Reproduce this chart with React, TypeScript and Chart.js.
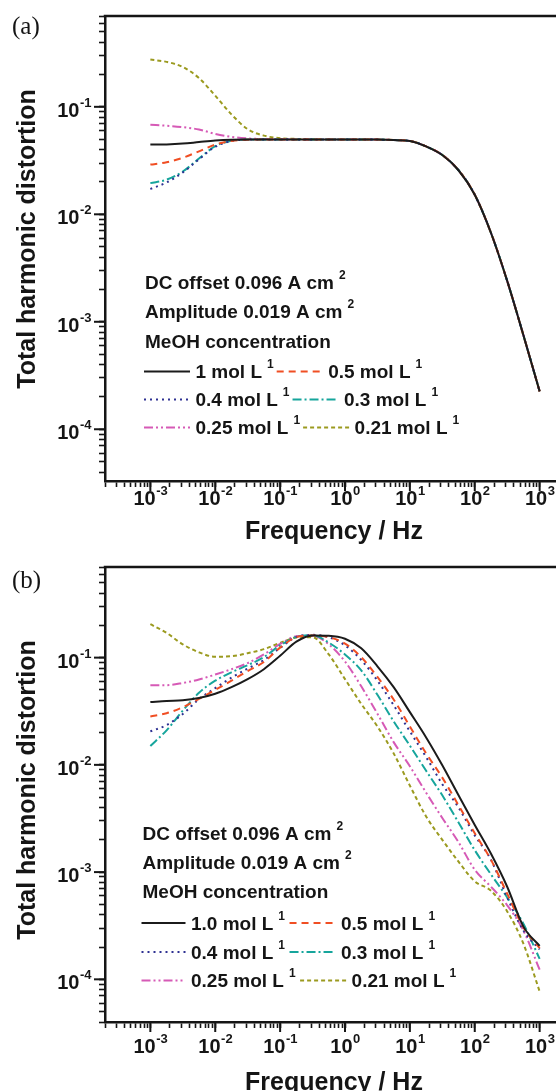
import React, { useEffect, useRef } from "react";
import { Chart, registerables } from "chart.js";

Chart.register(...registerables);

// ---------- data ----------
const FREQ_HZ = [
  0.001, 0.00178, 0.00316, 0.00562, 0.01, 0.0178, 0.0316, 0.0562, 0.1, 0.178, 0.316, 0.562, 1,
  1.78, 3.16, 5.62, 10, 17.8, 31.6, 56.2, 100, 178, 316, 562, 1000,
];

// panel (a)
const A_1_0 = [0.0445, 0.0447, 0.0455, 0.047, 0.0485, 0.0494, 0.0497, 0.0497, 0.0497, 0.0497, 0.0497, 0.0497, 0.0497, 0.0497, 0.0496, 0.0491, 0.0481, 0.0428, 0.0356, 0.0257, 0.0152, 0.0067, 0.0024, 0.00075, 0.000225];
const A_0_5 = [0.029, 0.0305, 0.0336, 0.0385, 0.0445, 0.0482, 0.0495, 0.0497, 0.0497, 0.0497, 0.0497, 0.0497, 0.0497, 0.0497, 0.0496, 0.0491, 0.0481, 0.0428, 0.0356, 0.0257, 0.0152, 0.0067, 0.0024, 0.00075, 0.000225];
const A_0_4 = [0.0172, 0.0198, 0.0245, 0.0325, 0.0425, 0.048, 0.0495, 0.0497, 0.0497, 0.0497, 0.0497, 0.0497, 0.0497, 0.0497, 0.0496, 0.0491, 0.0481, 0.0428, 0.0356, 0.0257, 0.0152, 0.0067, 0.0024, 0.00075, 0.000225];
const A_0_3 = [0.0195, 0.021, 0.025, 0.033, 0.043, 0.0483, 0.0496, 0.0497, 0.0497, 0.0497, 0.0497, 0.0497, 0.0497, 0.0497, 0.0496, 0.0491, 0.0481, 0.0428, 0.0356, 0.0257, 0.0152, 0.0067, 0.0024, 0.00075, 0.000225];
const A_0_25 = [0.068, 0.0667, 0.0647, 0.0615, 0.056, 0.0525, 0.0508, 0.0502, 0.0499, 0.0497, 0.0497, 0.0497, 0.0497, 0.0497, 0.0496, 0.0491, 0.0481, 0.0428, 0.0356, 0.0257, 0.0152, 0.0067, 0.0024, 0.00075, 0.000225];
const A_0_21 = [0.275, 0.262, 0.235, 0.185, 0.127, 0.085, 0.062, 0.054, 0.051, 0.0503, 0.0499, 0.0497, 0.0497, 0.0497, 0.0496, 0.0491, 0.0481, 0.0428, 0.0356, 0.0257, 0.0152, 0.0067, 0.0024, 0.00075, 0.000225];

// panel (b)
const B_1_0 = [0.0385, 0.0395, 0.04, 0.042, 0.046, 0.053, 0.063, 0.078, 0.104, 0.141, 0.161, 0.16, 0.15, 0.122, 0.083, 0.053, 0.031, 0.018, 0.0099, 0.0052, 0.00275, 0.00148, 0.00073, 0.00031, 0.000205];
const B_0_5 = [0.0283, 0.0303, 0.0345, 0.0413, 0.05, 0.061, 0.075, 0.091, 0.124, 0.155, 0.161, 0.155, 0.135, 0.101, 0.066, 0.0407, 0.0228, 0.0128, 0.0076, 0.0042, 0.0023, 0.0013, 0.00063, 0.000305, 0.000195];
const B_0_4 = [0.0205, 0.0235, 0.0298, 0.041, 0.052, 0.065, 0.079, 0.095, 0.123, 0.156, 0.163, 0.155, 0.13, 0.095, 0.061, 0.036, 0.0205, 0.0118, 0.0066, 0.004, 0.0022, 0.0013, 0.00058, 0.000285, 0.00019];
const B_0_3 = [0.015, 0.021, 0.032, 0.047, 0.061, 0.073, 0.085, 0.101, 0.13, 0.156, 0.162, 0.138, 0.107, 0.076, 0.045, 0.0255, 0.0151, 0.0088, 0.0052, 0.0029, 0.0016, 0.00095, 0.00058, 0.00033, 0.000155];
const B_0_25 = [0.0553, 0.0553, 0.058, 0.0625, 0.0695, 0.078, 0.089, 0.107, 0.134, 0.158, 0.16, 0.133, 0.092, 0.054, 0.03, 0.0163, 0.0097, 0.0055, 0.0032, 0.0019, 0.00105, 0.00073, 0.00049, 0.000285, 0.000123];
const B_0_21 = [0.205, 0.17, 0.133, 0.112, 0.102, 0.103, 0.11, 0.12, 0.137, 0.154, 0.155, 0.107, 0.063, 0.037, 0.0228, 0.0128, 0.0064, 0.0033, 0.002, 0.00125, 0.00082, 0.00067, 0.00043, 0.000215, 0.000077];

const NAMES_A = ["1 mol L", "0.5 mol L", "0.4 mol L", "0.3 mol L", "0.25 mol L", "0.21 mol L"];
const NAMES_B = ["1.0 mol L", "0.5 mol L", "0.4 mol L", "0.3 mol L", "0.25 mol L", "0.21 mol L"];
const UNIT_SUP = "1";
const HEADER_LINES: [string, string][] = [
  ["DC offset 0.096 A cm", "2"],
  ["Amplitude 0.019 A cm", "2"],
  ["MeOH concentration", ""],
];
const X_TITLE = "Frequency / Hz";
const Y_TITLE = "Total harmonic distortion";
const X_TICK_EXPONENTS = [-3, -2, -1, 0, 1, 2, 3];
const Y_TICK_EXPONENTS = [-1, -2, -3, -4];

// ---------- styles ----------
const STYLES = [
  { color: "#1b1b1b", dash: [] as number[] },
  { color: "#f04e23", dash: [7, 5] },
  { color: "#2e3192", dash: [2, 4] },
  { color: "#16a59c", dash: [9, 3, 2, 3] },
  { color: "#d65ab6", dash: [9, 3, 2, 3, 2, 3] },
  { color: "#9b9a1f", dash: [4, 3] },
];
const INK = "#151515";
const SANS = '"Liberation Sans", Arial, sans-serif';
const TICK_FONT = `bold 20px ${SANS}`;
const TICK_SUP = `bold 13px ${SANS}`;
const LEG_FONT = `bold 19px ${SANS}`;
const LEG_SUP = `bold 12px ${SANS}`;
const TITLE_FONT = `bold 25px ${SANS}`;
const PANEL_FONT = `25px "Liberation Serif", "Times New Roman", serif`;

const CANVAS_W = 600;
const X_MIN = 2e-4;
const X_MAX = 5000;
const AREA_LEFT = 105;
const AREA_RIGHT = 585;
const TICK_LEN = 6;

type Cfg = {
  top: number;
  h: number;
  yMin: number;
  yMax: number;
  areaTop: number;
  areaBottom: number;
  label: string;
  labelBase: number;
  xLabelBase: number;
  xTitleBase: number;
  yTitleCenter: number;
  legend: { x: number; base: number[]; sw1: number; sw2: number; colGap: number };
  names: string[];
  series: number[][];
};

const PANEL_A: Cfg = {
  top: 0, h: 548, yMin: 3.3e-5, yMax: 0.7, areaTop: 16, areaBottom: 481,
  label: "(a)", labelBase: 34, xLabelBase: 505, xTitleBase: 539, yTitleCenter: 239,
  legend: { x: 144, base: [288.5, 318, 347.5, 378, 406, 434], sw1: 46, sw2: 46, colGap: 3 },
  names: NAMES_A,
  series: [A_1_0, A_0_5, A_0_4, A_0_3, A_0_25, A_0_21],
};
const PANEL_B: Cfg = {
  top: 548, h: 543, yMin: 4e-5, yMax: 0.7, areaTop: 19, areaBottom: 474,
  label: "(b)", labelBase: 40, xLabelBase: 505, xTitleBase: 542, yTitleCenter: 242,
  legend: { x: 141.5, base: [292, 321, 350, 381.5, 410.5, 439], sw1: 44, sw2: 46, colGap: 4.5 },
  names: NAMES_B,
  series: [B_1_0, B_0_5, B_0_4, B_0_3, B_0_25, B_0_21],
};

function logTicks(min: number, max: number) {
  const out: { value: number; major: boolean }[] = [];
  for (let e = -6; e <= 4; e++) {
    for (let m = 1; m <= 9; m++) {
      const v = parseFloat((m * Math.pow(10, e)).toPrecision(3));
      if (v >= min * 0.999 && v <= max * 1.001) out.push({ value: v, major: m === 1 });
    }
  }
  return out;
}

function supText(e: number) {
  return e < 0 ? "-" + Math.abs(e) : String(e);
}

function powWidth(ctx: CanvasRenderingContext2D, e: number) {
  ctx.font = TICK_FONT;
  const w1 = ctx.measureText("10").width;
  ctx.font = TICK_SUP;
  const w2 = ctx.measureText(supText(e)).width;
  return [w1, w2];
}

function drawPow(ctx: CanvasRenderingContext2D, e: number, x: number, base: number) {
  const [w1] = powWidth(ctx, e);
  ctx.font = TICK_FONT;
  ctx.fillText("10", x, base);
  ctx.font = TICK_SUP;
  ctx.fillText(supText(e), x + w1 + 0.5, base - 10);
}

function makeDecor(cfg: Cfg) {
  return {
    id: "decor",
    afterDraw(chart: any) {
      const { ctx, chartArea: ca, scales } = chart;
      const xs = scales.x;
      const ys = scales.y;
      ctx.save();
      ctx.strokeStyle = INK;
      ctx.fillStyle = INK;
      ctx.textAlign = "left";
      ctx.textBaseline = "alphabetic";
      // top frame
      ctx.lineWidth = 2.5;
      ctx.beginPath();
      ctx.moveTo(ca.left - 1.25, ca.top);
      ctx.lineTo(ca.right, ca.top);
      ctx.stroke();
      // long major ticks
      ctx.lineWidth = 2;
      X_TICK_EXPONENTS.forEach((e) => {
        const px = xs.getPixelForValue(Math.pow(10, e));
        ctx.beginPath();
        ctx.moveTo(px, ca.bottom);
        ctx.lineTo(px, ca.bottom + 10);
        ctx.stroke();
      });
      Y_TICK_EXPONENTS.forEach((e) => {
        const py = ys.getPixelForValue(Math.pow(10, e));
        ctx.beginPath();
        ctx.moveTo(ca.left, py);
        ctx.lineTo(ca.left - 11, py);
        ctx.stroke();
      });
      // tick labels
      X_TICK_EXPONENTS.forEach((e) => {
        const px = xs.getPixelForValue(Math.pow(10, e));
        const [w1, w2] = powWidth(ctx, e);
        drawPow(ctx, e, px - (w1 + w2) / 2, cfg.xLabelBase);
      });
      Y_TICK_EXPONENTS.forEach((e) => {
        const py = ys.getPixelForValue(Math.pow(10, e));
        const [w1, w2] = powWidth(ctx, e);
        drawPow(ctx, e, ca.left - 14 - (w1 + w2), py + 10);
      });
      // axis titles
      ctx.font = TITLE_FONT;
      ctx.textAlign = "center";
      ctx.fillText(X_TITLE, 334, cfg.xTitleBase);
      ctx.save();
      ctx.translate(35, cfg.yTitleCenter);
      ctx.rotate(-Math.PI / 2);
      ctx.fillText(Y_TITLE, 0, 0);
      ctx.restore();
      // panel label
      ctx.textAlign = "left";
      ctx.font = PANEL_FONT;
      ctx.fillText(cfg.label, 12, cfg.labelBase);
      // legend block
      const L = cfg.legend;
      HEADER_LINES.forEach(([t, s], i) => {
        ctx.font = LEG_FONT;
        ctx.fillText(t, L.x + 1, L.base[i]);
        const w = ctx.measureText(t).width;
        if (s) {
          ctx.font = LEG_SUP;
          ctx.fillText(s, L.x + 1 + w + 5, L.base[i] - 10);
        }
      });
      for (let r = 0; r < 3; r++) {
        let x = L.x;
        const b = L.base[3 + r];
        const ly = b - 6.5;
        for (let c = 0; c < 2; c++) {
          const k = r * 2 + c;
          const st = STYLES[k];
          const sw = c === 0 ? L.sw1 : L.sw2;
          ctx.save();
          ctx.strokeStyle = st.color;
          ctx.lineWidth = 2;
          ctx.setLineDash(st.dash);
          ctx.beginPath();
          ctx.moveTo(x, ly);
          ctx.lineTo(x + sw, ly);
          ctx.stroke();
          ctx.restore();
          x += sw + 5.5;
          ctx.font = LEG_FONT;
          ctx.fillText(cfg.names[k], x, b);
          x += ctx.measureText(cfg.names[k]).width + 5;
          ctx.font = LEG_SUP;
          ctx.fillText(UNIT_SUP, x, b - 10);
          x += ctx.measureText(UNIT_SUP).width + L.colGap;
        }
      }
      ctx.restore();
    },
  };
}

function Panel({ cfg }: { cfg: Cfg }) {
  const ref = useRef<HTMLCanvasElement | null>(null);
  useEffect(() => {
    if (!ref.current) return;
    const axisGrid = {
      display: true,
      drawOnChartArea: false,
      drawTicks: true,
      tickLength: TICK_LEN,
      tickWidth: 1.6,
      tickColor: INK,
    };
    const axisBorder = { display: true, width: 2.5, color: INK };
    const chart = new Chart(ref.current, {
      type: "line",
      data: {
        datasets: cfg.series.map((vals, i) => ({
          label: cfg.names[i],
          data: FREQ_HZ.map((f, j) => ({ x: f, y: vals[j] })),
          borderColor: STYLES[i].color,
          borderWidth: 2,
          borderDash: STYLES[i].dash,
          pointRadius: 0,
          fill: false,
          cubicInterpolationMode: "monotone" as const,
        })),
      },
      options: {
        responsive: false,
        animation: false,
        devicePixelRatio: 1,
        layout: {
          padding: {
            left: AREA_LEFT - TICK_LEN,
            top: cfg.areaTop,
            right: CANVAS_W - AREA_RIGHT,
            bottom: cfg.h - cfg.areaBottom - TICK_LEN,
          },
        },
        plugins: { legend: { display: false }, tooltip: { enabled: false } },
        scales: {
          x: {
            type: "logarithmic",
            min: X_MIN,
            max: X_MAX,
            afterBuildTicks: (s: any) => {
              s.ticks = logTicks(X_MIN, X_MAX);
            },
            ticks: { display: false, autoSkip: false },
            grid: axisGrid,
            border: axisBorder,
          },
          y: {
            type: "logarithmic",
            min: cfg.yMin,
            max: cfg.yMax,
            afterBuildTicks: (s: any) => {
              s.ticks = logTicks(cfg.yMin, cfg.yMax);
            },
            ticks: { display: false, autoSkip: false },
            grid: axisGrid,
            border: axisBorder,
          },
        },
      } as any,
      plugins: [makeDecor(cfg)],
    });
    return () => chart.destroy();
  }, [cfg]);
  return (
    <canvas
      ref={ref}
      width={CANVAS_W}
      height={cfg.h}
      style={{ position: "absolute", left: 0, top: cfg.top, width: CANVAS_W, height: cfg.h }}
    />
  );
}

export default function App() {
  return (
    <div
      style={{
        position: "absolute",
        left: 0,
        top: 0,
        width: 556,
        height: 1091,
        overflow: "hidden",
        background: "#ffffff",
      }}
    >
      <Panel cfg={PANEL_A} />
      <Panel cfg={PANEL_B} />
    </div>
  );
}
